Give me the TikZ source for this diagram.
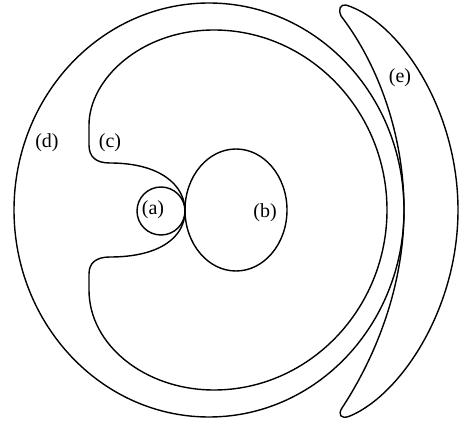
\documentclass[tikz,border=0pt]{standalone}
\usepackage{fontspec}
\setmainfont{Liberation Serif}
\tikzset{
  contorno/.style={line width=1.4pt, line join=round},
  etiqueta/.style={font=\fontsize{20}{22}\selectfont, inner sep=0pt}
}

\begin{document}
\begin{tikzpicture}[x=1pt,y=-1pt]
    \useasboundingbox (0,0) rectangle (459,425);

    % Circulo exterior (d)
    \draw[contorno] (209,210) ellipse [x radius=195pt, y radius=207pt];

    % Forma (c) con la muesca a la izquierda
    \draw[contorno] (185,211)
        .. controls (185,185) and (160,163) .. (110,163)
        .. controls (96,163) and (89,157) .. (89,145)
        -- (89,125)
        .. controls (89,80) and (140,30) .. (214,30)
        .. controls (309,30) and (387,111) .. (387,210)
        .. controls (387,309) and (309,390) .. (214,390)
        .. controls (145,390) and (89,345) .. (89,290)
        -- (89,274)
        .. controls (89,263) and (96,257) .. (110,257)
        .. controls (160,257) and (185,237) .. (185,211);

    % Circulo (a) y elipse (b)
    \draw[contorno] (161,211) circle [radius=24pt];
    \draw[contorno] (236,210) ellipse [x radius=51pt, y radius=61pt];

    % Media luna (e)
    \draw[contorno] (346,5)
        .. controls (400,22) and (458,110) .. (458,210)
        .. controls (458,310) and (400,395) .. (350,416)
        .. controls (340,420) and (338,414) .. (342,408)
        .. controls (380,350) and (404,280) .. (404,210)
        .. controls (404,130) and (375,60) .. (341,16)
        .. controls (338,10) and (340,4) .. (346,5) -- cycle;

    % Etiquetas
    \node[etiqueta] (la) at (153,210) {(a)};
    \node[etiqueta] (lb) at (265,213) {(b)};
    \node[etiqueta] (lc) at (110,143) {(c)};
    \node[etiqueta] (ld) at (47,143) {(d)};
    \node[etiqueta] (le) at (400,78) {(e)};

\end{tikzpicture}
\end{document}
